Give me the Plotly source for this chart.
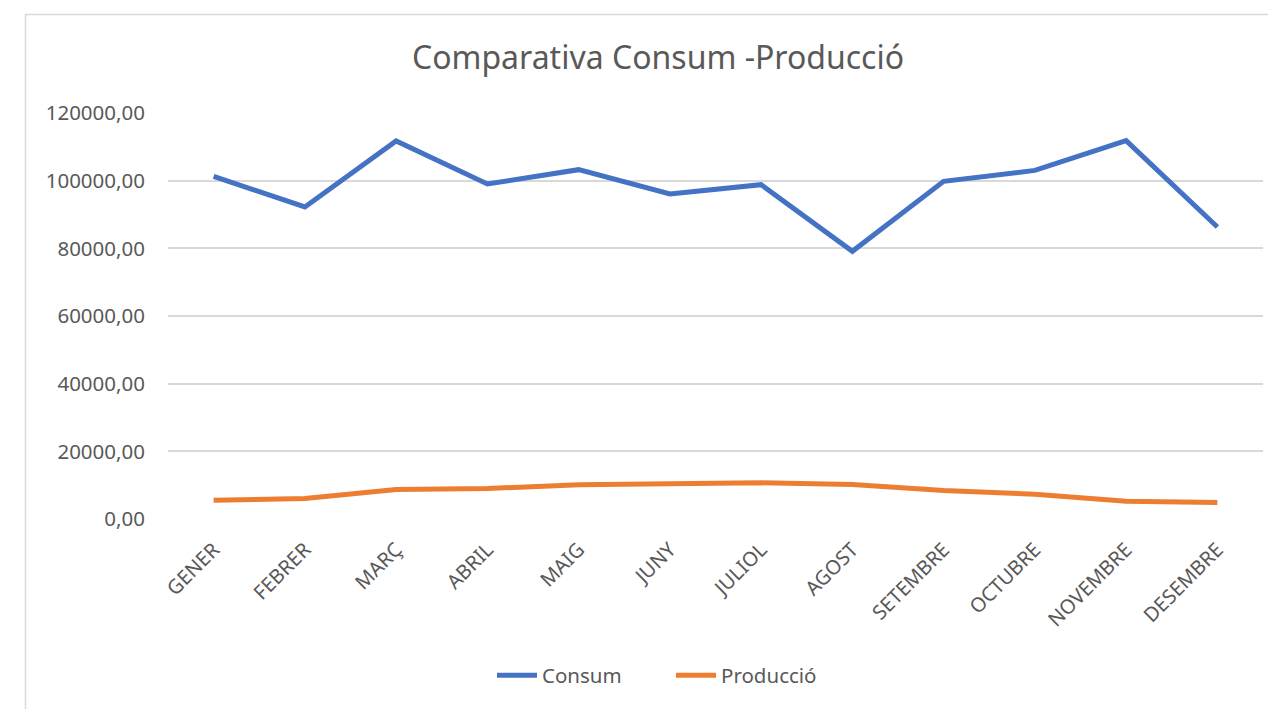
import plotly.graph_objects as go

months = ["GENER", "FEBRER", "MARÇ", "ABRIL", "MAIG", "JUNY", "JULIOL",
          "AGOST", "SETEMBRE", "OCTUBRE", "NOVEMBRE", "DESEMBRE"]
consum = [101270, 92230, 111730, 99030, 103250, 96070, 98820,
          79110, 99790, 103040, 111820, 86320]
produccio = [5550, 6060, 8710, 9010, 10100, 10490, 10690,
             10190, 8420, 7330, 5260, 4870]
y_ticks = [0, 20000, 40000, 60000, 80000, 100000, 120000]

FONT = "Noto Sans"
TXT = "#595959"

fig = go.Figure()
fig.add_trace(go.Scatter(x=months, y=consum, mode="lines", name="Consum",
                         line=dict(color="#4472C4", width=5)))
fig.add_trace(go.Scatter(x=months, y=produccio, mode="lines", name="Producció",
                         line=dict(color="#ED7D31", width=5)))

W, H = 1268, 709
ml, mr, mt, mb = 168, 5, 113, 189.5
pw = W - ml - mr
ph = H - mt - mb

def px_x(x):
    return (x - ml) / pw

def px_y(y):
    return (H - mb - y) / ph

fig.update_layout(
    width=W, height=H,
    margin=dict(l=ml, r=mr, t=mt, b=mb, autoexpand=False),
    paper_bgcolor="white", plot_bgcolor="white",
    font=dict(family=FONT, color=TXT, size=20),
    title=dict(text="Comparativa Consum -Producció", x=658 / W, xanchor="center",
               xref="container", y=1 - 58 / H, yanchor="middle", yref="container",
               font=dict(size=32, color=TXT, family=FONT)),
    separators=",.",
    showlegend=True,
    legend=dict(orientation="h", x=px_x(671), xanchor="center",
                y=px_y(676), yanchor="middle",
                font=dict(size=20.5, color=TXT), itemwidth=40,
                entrywidth=124, entrywidthmode="pixels"),
    xaxis=dict(type="category", range=[-0.5, len(months) - 0.5],
               showgrid=False, zeroline=False, showline=False,
               ticks="", tickangle=-45, tickfont=dict(size=20, color=TXT),
               ticklabelstandoff=14),
    yaxis=dict(range=[0, 120000], tickvals=y_ticks, tickformat=".2f",
               showgrid=True, gridcolor="#D9D9D9", gridwidth=1.5,
               zeroline=False, showline=False, ticks="",
               tickfont=dict(size=20.5, color=TXT), ticklabelstandoff=22),
    shapes=[dict(type="rect", xref="paper", yref="paper",
                 x0=px_x(25.5), x1=px_x(1320), y0=px_y(14.5), y1=px_y(760),
                 line=dict(color="#D9D9D9", width=1.5), layer="below")],
)

fig.write_html("out.html", config={"displayModeBar": False},
               post_script="document.body.style.margin='0';document.body.style.overflow='hidden';")
